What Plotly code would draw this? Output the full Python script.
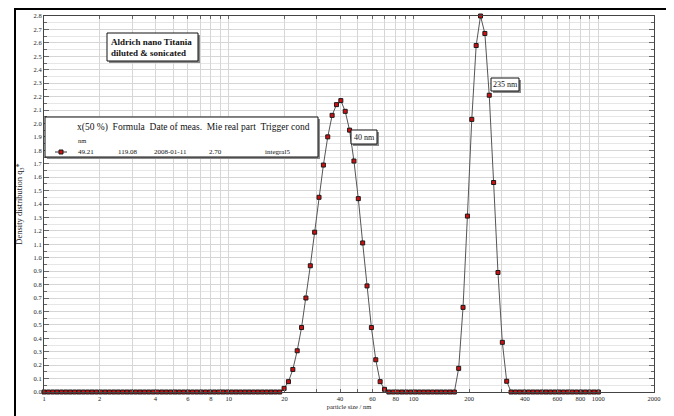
import plotly.graph_objects as go

# ---------------- data ----------------
size_nm = [
    1.000, 1.056, 1.115, 1.177, 1.243, 1.313, 1.386, 1.463, 1.545, 1.632,
    1.723, 1.819, 1.921, 2.028, 2.142, 2.261, 2.388, 2.521, 2.662, 2.811,
    2.968, 3.135, 3.310, 3.495, 3.690, 3.897, 4.114, 4.344, 4.587, 4.843,
    5.114, 5.399, 5.701, 6.020, 6.356, 6.711, 7.086, 7.482, 7.900, 8.342,
    8.808, 9.300, 9.820, 10.37, 10.95, 11.56, 12.21, 12.89, 13.61, 14.37,
    15.17, 16.02, 16.92, 17.86, 18.86, 19.92, 21.03, 22.21, 23.45, 24.76,
    26.14, 27.61, 29.15, 30.78, 32.50, 34.32, 36.24, 38.26, 40.40, 42.66,
    45.04, 47.56, 50.22, 53.03, 55.99, 59.12, 62.43, 65.92, 69.60, 73.49,
    77.60, 81.94, 86.52, 91.35, 96.46, 101.9, 107.5, 113.5, 119.9, 126.6,
    133.7, 141.1, 149.0, 157.4, 166.2, 175.4, 185.2, 195.6, 206.5, 218.1,
    230.3, 243.1, 256.7, 271.1, 286.2, 302.2, 319.1, 337.0, 355.8, 375.7,
    396.7, 418.9, 442.3, 467.0, 493.1, 520.7, 549.8, 580.5, 613.0, 647.2,
    683.4, 721.6, 762.0, 804.6, 849.5, 897.0, 947.2, 1000.0,
]
q3 = [
    0, 0, 0, 0, 0, 0, 0, 0, 0, 0,
    0, 0, 0, 0, 0, 0, 0, 0, 0, 0,
    0, 0, 0, 0, 0, 0, 0, 0, 0, 0,
    0, 0, 0, 0, 0, 0, 0, 0, 0, 0,
    0, 0, 0, 0, 0, 0, 0, 0, 0, 0,
    0, 0, 0, 0, 0, 0.027, 0.077, 0.168, 0.307, 0.48,
    0.70, 0.94, 1.19, 1.45, 1.69, 1.90, 2.06, 2.14, 2.17, 2.09,
    1.95, 1.72, 1.44, 1.11, 0.79, 0.48, 0.24, 0.077, 0.02, 0,
    0, 0, 0, 0, 0, 0, 0, 0, 0, 0,
    0, 0, 0, 0, 0, 0.176, 0.63, 1.31, 2.03, 2.58,
    2.80, 2.67, 2.21, 1.56, 0.89, 0.37, 0.08, 0, 0, 0,
    0, 0, 0, 0, 0, 0, 0, 0, 0, 0,
    0, 0, 0, 0, 0, 0, 0, 0,
]

x_tickvals = [1, 2, 3, 4, 5, 6, 7, 8, 9, 10,
              20, 30, 40, 50, 60, 70, 80, 90, 100,
              200, 300, 400, 500, 600, 700, 800, 900, 1000, 2000]
x_ticktext = ["1", "2", "", "4", "", "6", "", "8", "", "10",
              "20", "", "40", "", "60", "", "80", "", "100",
              "200", "", "400", "", "600", "", "800", "", "1000", "2000"]

legend_header = "x(50 %)&nbsp; Formula&nbsp; Date of meas.&nbsp; Mie real part&nbsp; Trigger cond"
legend_row = ["49.21", "119.08", "2008-01-11", "2.70", "integral5"]
sample_title = ["Aldrich nano Titania", "diluted & sonicated"]
peak_labels = ["40 nm", "235 nm"]

# ---------------- layout helpers ----------------
# the page body has an 8px margin, so the figure is drawn 8px smaller and
# all positions below are given in browser-window pixels
OFF = 8
W, H = 674 - OFF, 416 - OFF
PX0, PX1, PY0, PY1 = 44, 654, 16, 392          # plot area in window pixels
ML, MR = PX0 - OFF, W - (PX1 - OFF)
MT, MB = PY0 - OFF, H - (PY1 - OFF)
PW, PH = PX1 - PX0, PY1 - PY0


def X(px):
    return (px - PX0) / PW


def Y(py):
    return (PY1 - py) / PH


SERIF = "Liberation Serif, Times New Roman, serif"
GRID = "#d6d6d6"

fig = go.Figure()
fig.add_trace(go.Scatter(
    x=size_nm, y=q3, mode="lines+markers",
    line=dict(color="#555555", width=1),
    marker=dict(symbol="square", size=4, color="#d01010",
                line=dict(color="#1a1a1a", width=1)),
    cliponaxis=False, showlegend=False,
))

shapes = []
annotations = []


def box(x0, y0, x1, y1, shadow=2):
    shapes.append(dict(type="rect", xref="paper", yref="paper",
                       x0=X(x0 + shadow), x1=X(x1 + shadow),
                       y0=Y(y1 + shadow), y1=Y(y0 + shadow),
                       fillcolor="#8a8a8a", line=dict(width=0), layer="above"))
    shapes.append(dict(type="rect", xref="paper", yref="paper",
                       x0=X(x0), x1=X(x1), y0=Y(y1), y1=Y(y0),
                       fillcolor="white", line=dict(color="#111", width=1),
                       layer="above"))


def text(px, py, s, size, anchor="left", bold=False):
    annotations.append(dict(xref="paper", yref="paper", x=X(px), y=Y(py),
                            text=("<b>%s</b>" % s) if bold else s,
                            showarrow=False, xanchor=anchor, yanchor="middle",
                            font=dict(family=SERIF, size=size, color="#111")))


# sample title box
box(107, 33, 198, 61)
text(109, 42, sample_title[0], 9, bold=True)
text(109, 53, sample_title[1], 9, bold=True)

# legend table box
box(45, 117, 318, 157)
text(75, 127, legend_header, 9.5)
text(76, 140, "nm", 6.5)
for px, s in zip([76, 116, 152, 207, 263], legend_row):
    text(px, 152, s, 7)
shapes.append(dict(type="line", xref="paper", yref="paper",
                   x0=X(55), x1=X(67), y0=Y(152), y1=Y(152),
                   line=dict(color="#333", width=1), layer="above"))
shapes.append(dict(type="rect", xref="paper", yref="paper",
                   x0=X(59), x1=X(63), y0=Y(154), y1=Y(150),
                   fillcolor="#d01010", line=dict(color="#1a1a1a", width=1),
                   layer="above"))

# peak labels
box(351, 130, 377, 144)
text(364, 137, peak_labels[0], 8, anchor="center")
box(491, 78, 519, 91)
text(505, 84.5, peak_labels[1], 8, anchor="center")

# outer frame
shapes.append(dict(type="rect", xref="paper", yref="paper",
                   x0=X(15), x1=X(667), y0=Y(425), y1=Y(9),
                   line=dict(color="black", width=2), fillcolor="rgba(0,0,0,0)",
                   layer="above"))

fig.update_layout(
    width=W, height=H,
    margin=dict(l=ML, r=MR, t=MT, b=MB, pad=0),
    paper_bgcolor="white", plot_bgcolor="white",
    font=dict(family=SERIF, size=6, color="#222"),
    shapes=shapes, annotations=annotations,
    xaxis=dict(
        type="log", range=[0, 3.30103],
        tickvals=x_tickvals, ticktext=x_ticktext,
        showgrid=True, gridcolor=GRID, gridwidth=1,
        ticks="inside", ticklen=3, tickcolor="#666",
        showline=True, linecolor="#444", linewidth=1, mirror="allticks",
        tickfont=dict(family=SERIF, size=6.5, color="#222"),
        title=dict(text="particle size / nm", standoff=3,
                   font=dict(family=SERIF, size=6.5, color="#222")),
        zeroline=False, automargin=False,
    ),
    yaxis=dict(
        range=[0, 2.8], dtick=0.1, tick0=0, tickformat=".1f",
        showgrid=True, gridcolor=GRID, gridwidth=1,
        ticks="inside", ticklen=5, tickcolor="#666",
        minor=dict(dtick=0.05, ticks="inside", ticklen=3, tickcolor="#666",
                   showgrid=True, gridcolor="#e6e6e6"),
        showline=True, linecolor="#444", linewidth=1, mirror="allticks",
        tickfont=dict(family=SERIF, size=6.5, color="#222"),
        title=dict(text="Density distribution q<sub>3</sub>*", standoff=9,
                   font=dict(family=SERIF, size=8.5, color="#222")),
        zeroline=False, automargin=False,
    ),
)

fig.write_html("out.html")
